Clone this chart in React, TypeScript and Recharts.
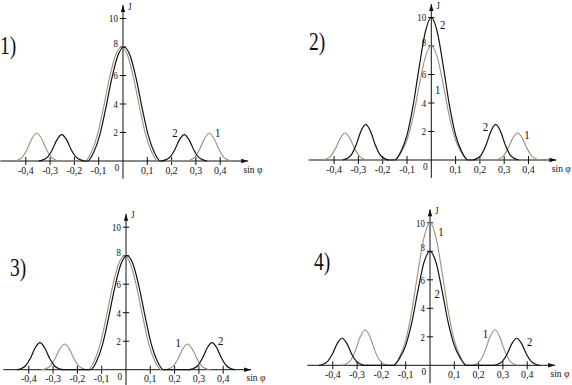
import { LineChart, Line, XAxis, YAxis, ReferenceLine, ReferenceDot } from 'recharts';

type Pt = [number, number];

// axis ticks (sin φ and J)
const X_TICKS = [-0.4, -0.3, -0.2, -0.1, 0.1, 0.2, 0.3, 0.4];
const Y_TICKS = [2, 4, 6, 8, 10];
const PANEL_TITLES = ['1)', '2)', '3)', '4)'];

// [sin φ, J]; curve 1 = brown, curve 2 = black
const P1_CURVE1: Pt[] = [
    [-0.45, 0], [-0.435, 0.06], [-0.415, 0.26], [-0.395, 0.8], [-0.375, 1.56], [-0.355, 1.95], [-0.335, 1.56], [-0.315, 0.8], [-0.295, 0.26], [-0.275, 0.06], [-0.26, 0],
    [-0.156, 0], [-0.131, 0.6], [-0.106, 1.8], [-0.081, 3.7], [-0.056, 5.8], [-0.031, 7.4], [-0.006, 8], [0.019, 7.4], [0.044, 5.8], [0.069, 3.7], [0.094, 1.8], [0.119, 0.6], [0.144, 0],
    [0.26, 0], [0.275, 0.06], [0.295, 0.26], [0.315, 0.8], [0.335, 1.56], [0.355, 1.95], [0.375, 1.56], [0.395, 0.8], [0.415, 0.26], [0.435, 0.06], [0.45, 0],
];
const P1_CURVE2: Pt[] = [
    [-0.347, 0], [-0.332, 0.06], [-0.312, 0.25], [-0.292, 0.76], [-0.272, 1.48], [-0.252, 1.85], [-0.232, 1.48], [-0.212, 0.76], [-0.192, 0.25], [-0.172, 0.06], [-0.157, 0],
    [-0.146, 0], [-0.121, 0.6], [-0.096, 1.8], [-0.071, 3.7], [-0.046, 5.8], [-0.021, 7.4], [0.004, 8], [0.029, 7.4], [0.054, 5.8], [0.079, 3.7], [0.104, 1.8], [0.129, 0.6], [0.154, 0],
    [0.157, 0], [0.172, 0.06], [0.192, 0.25], [0.212, 0.76], [0.232, 1.48], [0.252, 1.85], [0.272, 1.48], [0.292, 0.76], [0.312, 0.25], [0.332, 0.06], [0.347, 0],
];

const P2_CURVE1: Pt[] = [
    [-0.45, 0], [-0.435, 0.06], [-0.415, 0.26], [-0.395, 0.78], [-0.375, 1.52], [-0.355, 1.9], [-0.335, 1.52], [-0.315, 0.78], [-0.295, 0.26], [-0.275, 0.06], [-0.26, 0],
    [-0.15, 0], [-0.125, 0.5], [-0.1, 1.4], [-0.075, 3.0], [-0.05, 5.2], [-0.025, 7.2], [0, 8], [0.025, 7.2], [0.05, 5.2], [0.075, 3.0], [0.1, 1.4], [0.125, 0.5], [0.15, 0],
    [0.26, 0], [0.275, 0.06], [0.295, 0.26], [0.315, 0.78], [0.335, 1.52], [0.355, 1.9], [0.375, 1.52], [0.395, 0.78], [0.415, 0.26], [0.435, 0.06], [0.45, 0],
];
const P2_CURVE2: Pt[] = [
    [-0.365, 0], [-0.35, 0.08], [-0.33, 0.34], [-0.31, 1.03], [-0.29, 2.0], [-0.27, 2.5], [-0.25, 2.0], [-0.23, 1.03], [-0.21, 0.34], [-0.19, 0.08], [-0.175, 0],
    [-0.15, 0], [-0.125, 0.6], [-0.1, 1.75], [-0.075, 3.8], [-0.05, 6.5], [-0.025, 8.95], [0, 10], [0.025, 8.95], [0.05, 6.5], [0.075, 3.8], [0.1, 1.75], [0.125, 0.6], [0.15, 0],
    [0.17, 0], [0.185, 0.08], [0.205, 0.34], [0.225, 1.03], [0.245, 2.0], [0.265, 2.5], [0.285, 2.0], [0.305, 1.03], [0.325, 0.34], [0.345, 0.08], [0.36, 0],
];

const P3_CURVE1: Pt[] = [
    [-0.348, 0], [-0.333, 0.05], [-0.313, 0.24], [-0.293, 0.74], [-0.273, 1.44], [-0.253, 1.8], [-0.233, 1.44], [-0.213, 0.74], [-0.193, 0.24], [-0.173, 0.05], [-0.158, 0],
    [-0.156, 0], [-0.131, 0.6], [-0.106, 1.8], [-0.081, 3.7], [-0.056, 5.8], [-0.031, 7.4], [-0.006, 8], [0.019, 7.4], [0.044, 5.8], [0.069, 3.7], [0.094, 1.8], [0.119, 0.6], [0.144, 0],
    [0.158, 0], [0.173, 0.05], [0.193, 0.24], [0.213, 0.74], [0.233, 1.44], [0.253, 1.8], [0.273, 1.44], [0.293, 0.74], [0.313, 0.24], [0.333, 0.05], [0.348, 0],
];
const P3_CURVE2: Pt[] = [
    [-0.449, 0], [-0.434, 0.06], [-0.414, 0.26], [-0.394, 0.78], [-0.374, 1.52], [-0.354, 1.9], [-0.334, 1.52], [-0.314, 0.78], [-0.294, 0.26], [-0.274, 0.06], [-0.259, 0],
    [-0.146, 0], [-0.121, 0.6], [-0.096, 1.8], [-0.071, 3.7], [-0.046, 5.8], [-0.021, 7.4], [0.004, 8], [0.029, 7.4], [0.054, 5.8], [0.079, 3.7], [0.104, 1.8], [0.129, 0.6], [0.154, 0],
    [0.259, 0], [0.274, 0.06], [0.294, 0.26], [0.314, 0.78], [0.334, 1.52], [0.354, 1.9], [0.374, 1.52], [0.394, 0.78], [0.414, 0.26], [0.434, 0.06], [0.449, 0],
];

const P4_CURVE1: Pt[] = [
    [-0.362, 0], [-0.347, 0.08], [-0.327, 0.34], [-0.307, 1.03], [-0.287, 2.0], [-0.267, 2.5], [-0.247, 2.0], [-0.227, 1.03], [-0.207, 0.34], [-0.187, 0.08], [-0.172, 0],
    [-0.15, 0], [-0.125, 0.6], [-0.1, 1.75], [-0.075, 3.8], [-0.05, 6.5], [-0.025, 8.95], [0, 10], [0.025, 8.95], [0.05, 6.5], [0.075, 3.8], [0.1, 1.75], [0.125, 0.6], [0.15, 0],
    [0.172, 0], [0.187, 0.08], [0.207, 0.34], [0.227, 1.03], [0.247, 2.0], [0.267, 2.5], [0.287, 2.0], [0.307, 1.03], [0.327, 0.34], [0.347, 0.08], [0.362, 0],
];
const P4_CURVE2: Pt[] = [
    [-0.457, 0], [-0.442, 0.06], [-0.422, 0.26], [-0.402, 0.78], [-0.382, 1.52], [-0.362, 1.9], [-0.342, 1.52], [-0.322, 0.78], [-0.302, 0.26], [-0.282, 0.06], [-0.267, 0],
    [-0.15, 0], [-0.125, 0.5], [-0.1, 1.4], [-0.075, 3.0], [-0.05, 5.2], [-0.025, 7.2], [0, 8], [0.025, 7.2], [0.05, 5.2], [0.075, 3.0], [0.1, 1.4], [0.125, 0.5], [0.15, 0],
    [0.262, 0], [0.277, 0.06], [0.297, 0.26], [0.317, 0.78], [0.337, 1.52], [0.357, 1.9], [0.377, 1.52], [0.397, 0.78], [0.417, 0.26], [0.437, 0.06], [0.452, 0],
];

// curve numbers written next to the curves [text, sin φ, J]
const P1_TAGS: [string, number, number][] = [['2', 0.214, 1.96], ['1', 0.39, 1.96]];
const P2_TAGS: [string, number, number][] = [['2', 0.047, 9.46], ['1', 0.026, 4.9], ['2', 0.223, 2.33], ['1', 0.394, 1.75]];
const P3_TAGS: [string, number, number][] = [['1', 0.215, 1.89], ['2', 0.39, 2.06]];
const P4_TAGS: [string, number, number][] = [['1', 0.045, 9.4], ['2', 0.03, 5.05], ['1', 0.228, 2.23], ['2', 0.41, 1.65]];

const BROWN = '#a08e7a';
const INK = '#111';
const FONT = '"Liberation Serif", "Times New Roman", serif';

// pixel placement of each small chart (origin = where the axes cross)
const SX = 243;
const SY = 14.25;
const LAYOUT = [
    { left: 0, top: 0, w: 286, h: 192, ox: 123, oy: 161, title: [-0.473, 8.07] },
    { left: 286, top: 0, w: 286, h: 192, ox: 431.3, oy: 160, title: [-0.47, 8.28] },
    { left: 0, top: 192, w: 286, h: 193, ox: 126, oy: 369.7, title: [-0.444, 7.14] },
    { left: 286, top: 192, w: 286, h: 193, ox: 430, oy: 365.3, title: [-0.444, 7.25] },
];

const PANELS = [
    { c1: P1_CURVE1, c2: P1_CURVE2, tags: P1_TAGS },
    { c1: P2_CURVE1, c2: P2_CURVE2, tags: P2_TAGS },
    { c1: P3_CURVE1, c2: P3_CURVE2, tags: P3_TAGS },
    { c1: P4_CURVE1, c2: P4_CURVE2, tags: P4_TAGS },
];

const fmt = (v: number) => String(v).replace('.', ',');
const toRows = (pts: Pt[]) => pts.map(([x, y]) => ({ x, y }));

function Txt({ x, y, text, size, anchor = 'middle', squeeze = 1 }: any) {
    return (
        <text
            transform={`translate(${x} ${y}) scale(${squeeze} 1)`}
            textAnchor={anchor}
            dominantBaseline="central"
            fontFamily={FONT}
            fontSize={size}
            fill={INK}
        >
            {text}
        </text>
    );
}

const dotLabel = (text: string, size: number, squeeze = 1) => (p: any) => {
    const vb = p.viewBox;
    return <Txt x={vb.x + vb.width / 2} y={vb.y + vb.height / 2} text={text} size={size} squeeze={squeeze} />;
};

const xTickLabel = (t: number) => (p: any) => {
    const vb = p.viewBox;
    return <Txt x={vb.x + vb.width / 2} y={vb.y + vb.height + 5} text={fmt(t)} size={11} squeeze={0.9} />;
};

const yTickLabel = (t: number) => (p: any) => {
    const vb = p.viewBox;
    const lift = t === 8 ? -4 : 0;
    return <Txt x={vb.x - 2} y={vb.y + vb.height / 2 + lift} text={String(t)} size={11} anchor="end" squeeze={0.8} />;
};

function Arrow(p: any) {
    const { x1, y1, x2, y2 } = p;
    const a = Math.atan2(y2 - y1, x2 - x1);
    const len = 7;
    const half = 2.2;
    const bx = x2 - len * Math.cos(a);
    const by = y2 - len * Math.sin(a);
    const nx = -Math.sin(a) * half;
    const ny = Math.cos(a) * half;
    return (
        <g>
            <line x1={x1} y1={y1} x2={x2} y2={y2} stroke={INK} strokeWidth={1} />
            <polygon points={`${x2},${y2} ${bx + nx},${by + ny} ${bx - nx},${by - ny}`} fill={INK} />
        </g>
    );
}

function Panel({ idx }: { idx: number }) {
    const L = LAYOUT[idx];
    const P = PANELS[idx];
    const xDomain = [-(L.ox - L.left) / SX, (L.left + L.w - L.ox) / SX];
    const yDomain = [-(L.top + L.h - L.oy) / SY, (L.oy - L.top) / SY];

    return (
        <div style={{ position: 'absolute', left: L.left, top: L.top, width: L.w, height: L.h }}>
            <LineChart width={L.w} height={L.h} margin={{ top: 0, right: 0, bottom: 0, left: 0 }}>
                <XAxis type="number" dataKey="x" domain={xDomain} allowDataOverflow hide />
                <YAxis type="number" dataKey="y" domain={yDomain} allowDataOverflow hide />

                {/* axes with arrows */}
                <ReferenceLine segment={[{ x: -0.505, y: 0 }, { x: 0.515, y: 0 }]} shape={Arrow} ifOverflow="visible" />
                <ReferenceLine segment={[{ x: 0, y: -1.25 }, { x: 0, y: 10.95 }]} shape={Arrow} ifOverflow="visible" />

                {X_TICKS.map(t => (
                    <ReferenceLine key={`xt${t}`} segment={[{ x: t, y: -0.28 }, { x: t, y: 0.28 }]}
                        stroke={INK} strokeWidth={1} ifOverflow="visible" label={xTickLabel(t)} />
                ))}
                {Y_TICKS.map(t => (
                    <ReferenceLine key={`yt${t}`} segment={[{ x: -0.013, y: t }, { x: 0.013, y: t }]}
                        stroke={INK} strokeWidth={1} ifOverflow="visible" label={yTickLabel(t)} />
                ))}

                <Line data={toRows(P.c1)} dataKey="y" type="monotone" stroke={BROWN} strokeWidth={1.1}
                    dot={false} activeDot={false} isAnimationActive={false} />
                <Line data={toRows(P.c2)} dataKey="y" type="monotone" stroke={INK} strokeWidth={1.2}
                    dot={false} activeDot={false} isAnimationActive={false} />

                <ReferenceDot x={-0.025} y={-0.45} r={1} fill="none" stroke="none" ifOverflow="visible" label={dotLabel('0', 11, 0.85)} />
                <ReferenceDot x={0.028} y={10.85} r={1} fill="none" stroke="none" ifOverflow="visible" label={dotLabel('J', 10, 0.85)} />
                <ReferenceDot x={0.535} y={-0.56} r={1} fill="none" stroke="none" ifOverflow="visible" label={dotLabel('sin φ', 10, 0.95)} />
                <ReferenceDot x={L.title[0]} y={L.title[1]} r={1} fill="none" stroke="none" ifOverflow="visible"
                    label={dotLabel(PANEL_TITLES[idx], 25, 0.78)} />
                {P.tags.map(([text, x, y], i) => (
                    <ReferenceDot key={`tag${i}`} x={x} y={y} r={1} fill="none" stroke="none" ifOverflow="visible"
                        label={dotLabel(text, 12, 0.9)} />
                ))}
            </LineChart>
        </div>
    );
}

export default function App() {
    return (
        <div style={{ position: 'absolute', left: 0, top: 0, width: 572, height: 385, background: '#fff', overflow: 'hidden' }}>
            {[0, 1, 2, 3].map(i => <Panel key={i} idx={i} />)}
        </div>
    );
}
